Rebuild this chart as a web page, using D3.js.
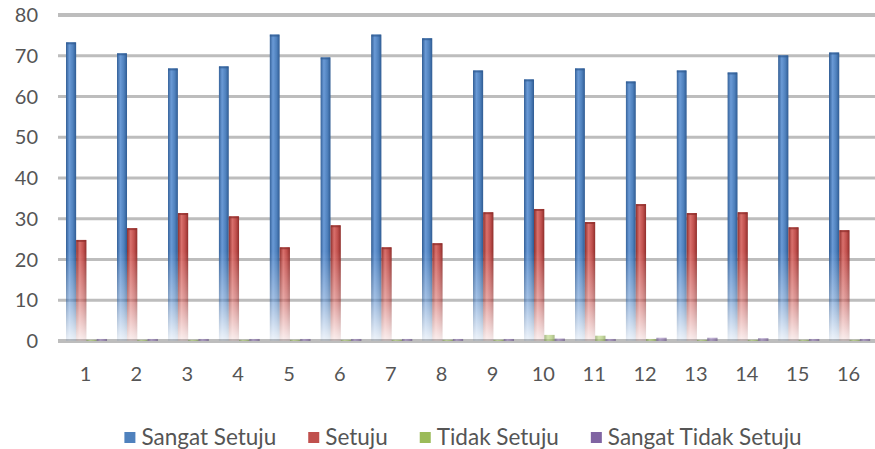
<!DOCTYPE html>
<html>
<head>
<meta charset="utf-8">
<script src="https://cdn.jsdelivr.net/npm/d3@7"></script>
<style>
  html, body { margin: 0; padding: 0; background: #ffffff; }
  svg { display: block; }
  text { font-family: Lato, "Open Sans", sans-serif; fill: #555555; }
</style>
</head>
<body>
<svg id="chart" width="875" height="449"></svg>
<script>
// Survey responses per statement (percent)
const categories = ["1","2","3","4","5","6","7","8","9","10","11","12","13","14","15","16"];
const seriesNames = ["Sangat Setuju", "Setuju", "Tidak Setuju", "Sangat Tidak Setuju"];
const sangatSetuju = [73.3, 70.6, 66.9, 67.4, 75.2, 69.6, 75.2, 74.3, 66.4, 64.2, 66.9, 63.7, 66.4, 65.9, 70.1, 70.8];
const setuju = [24.8, 27.7, 31.4, 30.6, 23.0, 28.4, 23.0, 24.0, 31.6, 32.4, 29.2, 33.6, 31.4, 31.6, 27.9, 27.2];
const tidakSetuju = [0.3, 0.3, 0.3, 0.3, 0.3, 0.3, 0.3, 0.3, 0.3, 1.5, 1.3, 0.5, 0.3, 0.3, 0.3, 0.3];
const sangatTidakSetuju = [0.5, 0.5, 0.5, 0.5, 0.5, 0.5, 0.5, 0.5, 0.5, 0.6, 0.5, 0.8, 0.8, 0.7, 0.5, 0.5];
const yTicks = [0, 10, 20, 30, 40, 50, 60, 70, 80];

const seriesValues = [sangatSetuju, setuju, tidakSetuju, sangatTidakSetuju];
const colors = {
  base: ["#4f81bd", "#c0504d", "#9bbb59", "#8064a2"],
  edge: ["#2f5b92", "#8f2e2b", "#6f8a3a", "#574378"],
  light: ["#6a9ad6", "#d9706c", "#b5d37a", "#9c84bd"]
};

const rows = categories.map((c, i) => ({
  cat: c,
  values: seriesNames.map((s, j) => ({ key: s, idx: j, value: seriesValues[j][i] }))
}));

const svg = d3.select("#chart");
const plot = { left: 60, right: 874, top: 15, bottom: 341 };

const x0 = d3.scaleBand().domain(categories).range([plot.left, plot.right])
  .paddingInner(0.19).paddingOuter(0.095);
const x1 = d3.scaleBand().domain(seriesNames).range([0, x0.bandwidth()]);
const y = d3.scaleLinear().domain([0, 80]).range([plot.bottom, plot.top]);

const defs = svg.append("defs");

// Side shading so each column reads as a rounded 3D bar
seriesNames.forEach((s, j) => {
  const g = defs.append("linearGradient").attr("id", "shade" + j)
    .attr("x1", "0").attr("x2", "1").attr("y1", "0").attr("y2", "0");
  g.append("stop").attr("offset", "0%").attr("stop-color", colors.edge[j]);
  g.append("stop").attr("offset", "35%").attr("stop-color", colors.light[j]);
  g.append("stop").attr("offset", "70%").attr("stop-color", colors.base[j]);
  g.append("stop").attr("offset", "100%").attr("stop-color", colors.edge[j]);
});

// Columns fade out towards the floor
const fade = defs.append("linearGradient").attr("id", "fadeGrad")
  .attr("gradientUnits", "userSpaceOnUse")
  .attr("x1", 0).attr("x2", 0).attr("y1", y(22)).attr("y2", y(0));
fade.append("stop").attr("offset", "0%").attr("stop-color", "#fff");
fade.append("stop").attr("offset", "55%").attr("stop-color", "#999");
fade.append("stop").attr("offset", "100%").attr("stop-color", "#1a1a1a");
defs.append("mask").attr("id", "fadeMask")
  .attr("maskUnits", "userSpaceOnUse")
  .attr("x", 0).attr("y", 0).attr("width", 875).attr("height", 449)
  .append("rect").attr("x", 0).attr("y", 0).attr("width", 875).attr("height", 449)
  .attr("fill", "url(#fadeGrad)");

// Horizontal gridlines
svg.append("g").selectAll("line").data(yTicks).join("line")
  .attr("x1", plot.left - 2).attr("x2", 875)
  .attr("y1", d => y(d)).attr("y2", d => y(d))
  .attr("stroke", "#bdbdbd")
  .attr("stroke-width", d => (d === 0 || d === 80) ? 4 : 3);

// Y axis labels
svg.append("g").selectAll("text").data(yTicks).join("text")
  .attr("x", 38).attr("y", d => y(d))
  .attr("dy", "0.36em")
  .attr("text-anchor", "end")
  .style("font-size", "20px")
  .text(d => d);

// Bars
const bars = svg.append("g");
const group = bars.selectAll("g").data(rows).join("g")
  .attr("transform", d => `translate(${x0(d.cat) + 1},0)`);

group.selectAll("rect").data(d => d.values).join("rect")
  .attr("x", d => x1(d.key))
  .attr("width", x1.bandwidth())
  .attr("y", d => y(d.value))
  .attr("height", d => Math.max(0, y(0) - y(d.value)))
  .attr("fill", d => "url(#shade" + d.idx + ")")
  .attr("mask", d => d.idx < 2 ? "url(#fadeMask)" : null)
  .attr("opacity", d => d.idx < 2 ? 1 : 0.6);

// Top caps
group.selectAll("line.cap").data(d => d.values.filter(v => v.idx < 2)).join("line")
  .attr("class", "cap")
  .attr("x1", d => x1(d.key) + 0.5).attr("x2", d => x1(d.key) + x1.bandwidth() - 0.5)
  .attr("y1", d => y(d.value) + 1).attr("y2", d => y(d.value) + 1)
  .attr("stroke", (d) => colors.edge[d.idx]).attr("stroke-width", 2).attr("opacity", 0.7);

// X axis labels
svg.append("g").selectAll("text").data(categories).join("text")
  .attr("x", d => x0(d) + x0.bandwidth() / 2)
  .attr("y", 381)
  .attr("text-anchor", "middle")
  .style("font-size", "20px")
  .text(d => d);

// Legend
const legend = svg.append("g");
const items = legend.selectAll("g").data(seriesNames).join("g");
const markerGap = 17;
items.append("rect")
  .attr("width", 11).attr("height", 11)
  .attr("y", -13)
  .attr("fill", (d, j) => colors.base[j]);
items.append("text")
  .attr("x", markerGap)
  .attr("y", 0)
  .style("font-size", "22.5px")
  .text(d => d);

let offset = 0;
const widths = [];
items.each(function () {
  const w = d3.select(this).select("text").node().getComputedTextLength() + markerGap;
  widths.push(w);
});
const gap = 32;
const total = d3.sum(widths) + gap * (widths.length - 1);
const start = (plot.left + plot.right) / 2 - total / 2 - 4;
items.attr("transform", (d, j) => {
  const t = `translate(${start + offset},445)`;
  offset += widths[j] + gap;
  return t;
});
</script>
</body>
</html>
